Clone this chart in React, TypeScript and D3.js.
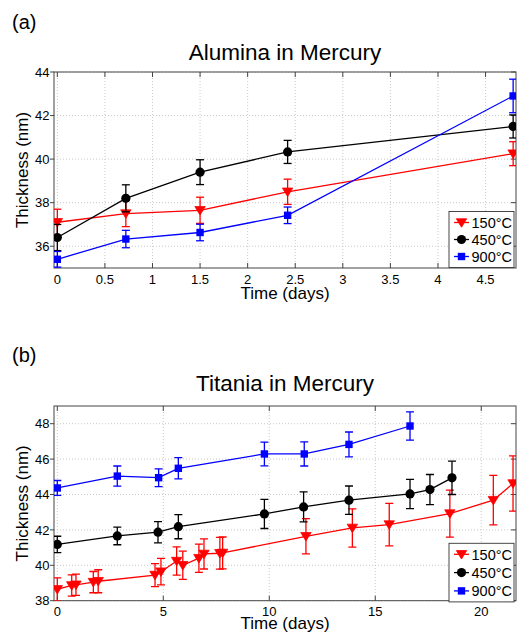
import React from "react";
import * as d3 from "d3";

// ---------- Panel (a): Alumina in Mercury ----------
const aTimes = [0, 0.72, 1.5, 2.42, 4.79];
const a150 = [37.1, 37.5, 37.65, 38.5, 40.25];
const a150Err = [0.6, 0.6, 0.6, 0.58, 0.55];
const a450 = [36.4, 38.2, 39.4, 40.33, 41.5];
const a450Err = [0.6, 0.62, 0.57, 0.53, 0.53];
const a900 = [35.4, 36.33, 36.63, 37.42, 42.9];
const a900Err = [0.36, 0.4, 0.38, 0.38, 0.77];
const aXTicks = [0, 0.5, 1, 1.5, 2, 2.5, 3, 3.5, 4, 4.5];
const aYTicks = [36, 38, 40, 42, 44];

// ---------- Panel (b): Titania in Mercury ----------
const b150Times = [0, 0.68, 0.88, 1.7, 1.93, 4.61, 4.89, 5.63, 5.92, 6.68, 6.92, 7.67, 7.8, 11.73, 13.92, 15.66, 18.52, 20.57, 21.5];
const b150 = [38.64, 38.86, 38.9, 39.05, 39.1, 39.45, 39.64, 40.24, 40.0, 40.4, 40.64, 40.68, 40.7, 41.64, 42.11, 42.3, 42.92, 43.68, 44.62];
const b150Err = [0.65, 0.6, 0.6, 0.6, 0.65, 0.65, 0.75, 0.8, 0.8, 0.8, 0.85, 0.9, 0.9, 1.0, 1.08, 1.2, 1.33, 1.4, 1.56];
const b450Times = [0, 2.83, 4.75, 5.71, 9.77, 11.62, 13.76, 16.64, 17.58, 18.62];
const b450 = [41.18, 41.66, 41.87, 42.18, 42.9, 43.3, 43.68, 44.03, 44.28, 44.94];
const b450Err = [0.46, 0.5, 0.6, 0.68, 0.82, 0.85, 0.8, 0.83, 0.85, 0.94];
const b900Times = [0, 2.83, 4.78, 5.71, 9.77, 11.65, 13.76, 16.64];
const b900 = [44.37, 45.04, 44.95, 45.48, 46.29, 46.29, 46.83, 47.87];
const b900Err = [0.42, 0.57, 0.5, 0.6, 0.67, 0.68, 0.7, 0.8];
const bXTicks = [0, 5, 10, 15, 20];
const bYTicks = [38, 40, 42, 44, 46, 48];

const seriesLabels = ["150°C", "450°C", "900°C"];
const seriesColors = ["#ff0000", "#000000", "#0000ff"];
const seriesMarkers = ["tri", "circle", "square"];

const FONT = "'Liberation Sans', Arial, Helvetica, sans-serif";

type Series = { x: number[]; y: number[]; e: number[] };

function Marker({ kind, x, y, color }: { kind: string; x: number; y: number; color: string }) {
  if (kind === "tri") {
    const w = 5.2, h = 8.5;
    return <path d={`M${x - w},${y - h / 2 + 0.5}L${x + w},${y - h / 2 + 0.5}L${x},${y + h / 2 + 0.5}Z`} fill={color} stroke={color} strokeWidth={0.8} />;
  }
  if (kind === "circle") return <circle cx={x} cy={y} r={4.6} fill={color} />;
  return <rect x={x - 3.7} y={y - 3.7} width={7.4} height={7.4} fill={color} />;
}

function Panel({
  id, top, bottom, xDomain, yDomain, xTicks, yTicks, series, title, letter, letterY, titleY, xLabelY, legendTop, legendStep,
}: {
  id: string; top: number; bottom: number; xDomain: [number, number]; yDomain: [number, number];
  xTicks: number[]; yTicks: number[]; series: Series[]; title: string; letter: string;
  letterY: number; titleY: number; xLabelY: number; legendTop: number; legendStep: number;
}) {
  const left = 54, right = 516;
  const x = d3.scaleLinear().domain(xDomain).range([left, right]);
  const y = d3.scaleLinear().domain(yDomain).range([bottom, top]);
  const axisColor = "#444";
  const legendLeft = 449, legendRight = 514;
  const legendH = legendStep * 2 + 22;
  return (
    <g>
      <defs>
        <clipPath id={`clip-${id}`}>
          <rect x={left} y={top} width={right - left} height={bottom - top} />
        </clipPath>
      </defs>
      <text x={12} y={letterY} fontSize={20} fontFamily={FONT}>{letter}</text>
      <text x={(left + right) / 2} y={titleY} fontSize={22.5} fontFamily={FONT} textAnchor="middle">{title}</text>
      <rect x={left} y={top} width={right - left} height={bottom - top} fill="#fff" />
      {/* grid */}
      {xTicks.map((t) => (
        <line key={"gx" + t} x1={x(t)} x2={x(t)} y1={top} y2={bottom} stroke="#bbb" strokeWidth={0.8} strokeDasharray="1,2" />
      ))}
      {yTicks.map((t) => (
        <line key={"gy" + t} x1={left} x2={right} y1={y(t)} y2={y(t)} stroke="#bbb" strokeWidth={0.8} strokeDasharray="1,2" />
      ))}
      {/* axes box */}
      <rect x={left} y={top} width={right - left} height={bottom - top} fill="none" stroke={axisColor} strokeWidth={1} />
      {xTicks.map((t) => (
        <g key={"tx" + t}>
          <line x1={x(t)} x2={x(t)} y1={bottom} y2={bottom - 5} stroke={axisColor} />
          <line x1={x(t)} x2={x(t)} y1={top} y2={top + 5} stroke={axisColor} />
          <text x={x(t)} y={bottom + 15.5} fontSize={13} fontFamily={FONT} textAnchor="middle">{String(t)}</text>
        </g>
      ))}
      {yTicks.map((t) => (
        <g key={"ty" + t}>
          <line x1={left - 4} x2={left} y1={y(t)} y2={y(t)} stroke={axisColor} />
          <line x1={right} x2={right - 5} y1={y(t)} y2={y(t)} stroke={axisColor} />
          <text x={left - 4.5} y={y(t) + 4.6} fontSize={13} fontFamily={FONT} textAnchor="end">{String(t)}</text>
        </g>
      ))}
      <text x={(left + right) / 2} y={xLabelY} fontSize={17} fontFamily={FONT} textAnchor="middle">Time (days)</text>
      <text transform={`translate(28,${(top + bottom) / 2}) rotate(-90)`} fontSize={17} fontFamily={FONT} textAnchor="middle">Thickness (nm)</text>
      {/* data */}
      <g clipPath={`url(#clip-${id})`}>
        {series.map((s, si) => {
          const c = seriesColors[si];
          const pts = s.x.map((xv, i) => [x(xv), y(s.y[i])] as [number, number]);
          return (
            <g key={"s" + si}>
              <path d={d3.line()(pts) || ""} fill="none" stroke={c} strokeWidth={1.3} />
              {s.x.map((xv, i) => {
                const px = x(xv), y1 = y(s.y[i] + s.e[i]), y2 = y(s.y[i] - s.e[i]);
                return (
                  <g key={"e" + i} stroke={c} strokeWidth={1.3}>
                    <line x1={px} x2={px} y1={y1} y2={y2} />
                    <line x1={px - 4} x2={px + 4} y1={y1} y2={y1} />
                    <line x1={px - 4} x2={px + 4} y1={y2} y2={y2} />
                  </g>
                );
              })}
              {pts.map((p, i) => (
                <Marker key={"m" + i} kind={seriesMarkers[si]} x={p[0]} y={p[1]} color={c} />
              ))}
            </g>
          );
        })}
      </g>
      {/* legend */}
      <rect x={legendLeft} y={legendTop} width={legendRight - legendLeft} height={legendH} fill="#fff" stroke="#333" strokeWidth={0.9} />
      {seriesLabels.map((lab, i) => {
        const ly = legendTop + 11 + i * legendStep;
        return (
          <g key={"l" + i}>
            <line x1={454} x2={469} y1={ly} y2={ly} stroke={seriesColors[i]} strokeWidth={1.3} />
            <Marker kind={seriesMarkers[i]} x={461.5} y={ly} color={seriesColors[i]} />
            <text x={471.5} y={ly + 5.2} fontSize={14.5} fontFamily={FONT}>{lab}</text>
          </g>
        );
      })}
    </g>
  );
}

export default function App() {
  const aSeries: Series[] = [
    { x: aTimes, y: a150, e: a150Err },
    { x: aTimes, y: a450, e: a450Err },
    { x: aTimes, y: a900, e: a900Err },
  ];
  const bSeries: Series[] = [
    { x: b150Times, y: b150, e: b150Err },
    { x: b450Times, y: b450, e: b450Err },
    { x: b900Times, y: b900, e: b900Err },
  ];
  return (
    <svg width={518} height={634} style={{ position: "absolute", left: 0, top: 0, background: "#fff" }}>
      <rect width={518} height={634} fill="#fff" />
      <Panel id="a" top={72} bottom={268} xDomain={[-0.035, 4.82]} yDomain={[35, 44]}
        xTicks={aXTicks} yTicks={aYTicks} series={aSeries} title="Alumina in Mercury" letter="(a)"
        letterY={29} titleY={59.5} xLabelY={299} legendTop={211.5} legendStep={17} />
      <Panel id="b" top={406} bottom={600.7} xDomain={[-0.156, 21.64]} yDomain={[38, 49]}
        xTicks={bXTicks} yTicks={bYTicks} series={bSeries} title="Titania in Mercury" letter="(b)"
        letterY={362} titleY={390.5} xLabelY={628.5} legendTop={543.3} legendStep={18.3} />
    </svg>
  );
}
